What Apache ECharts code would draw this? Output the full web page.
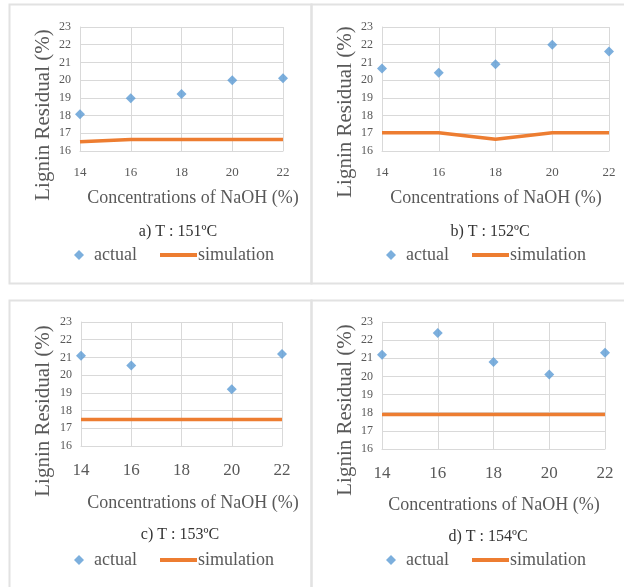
<!DOCTYPE html>
<html>
<head>
<meta charset="utf-8">
<script src="https://cdn.jsdelivr.net/npm/echarts@6/dist/echarts.min.js"></script>
<style>
  html, body { margin: 0; padding: 0; background: #fff; }
  #chart { width: 624px; height: 587px; }
</style>
</head>
<body>
<div id="chart"></div>
<script>
// NaOH concentrations (x)
const naoh = [14, 16, 18, 20, 22];
const naohC = [14, 16, 20, 22]; // panel c has no point at 18

// lignin residual (%)
const actualA = [18.07, 18.98, 19.22, 20.0, 20.1];
const simA = [16.52, 16.65, 16.65, 16.65, 16.65];
const actualB = [20.66, 20.42, 20.9, 22.0, 21.62];
const simB = [17.03, 17.03, 16.66, 17.03, 17.03];
const actualC = [21.1, 20.55, 19.2, 21.2];
const simC = [17.5, 17.5, 17.5, 17.5, 17.5];
const actualD = [21.2, 22.4, 20.8, 20.1, 21.3];
const simD = [17.9, 17.9, 17.9, 17.9, 17.9];

const panelTitles = ["a) T : 151ºC", "b) T : 152ºC", "c) T : 153ºC", "d) T : 154ºC"];
const xName = "Concentrations of NaOH (%)";
const yName = "Lignin Residual (%)";

const FONT = "Liberation Serif";
const GRAY = "#595959";
const GRID = "#d9d9d9";
const BLUE = "#5B9BD5";
const ORANGE = "#ED7D31";

// panel layout (plot boxes in px)
const grids = [
	{ left: 80, top: 27, width: 203, height: 124 },
	{ left: 382, top: 27, width: 227, height: 124 },
	{ left: 81, top: 322, width: 201, height: 124 },
	{ left: 382, top: 322, width: 223, height: 127 }
];
const xLabelSize = [13, 13, 17, 17];
const yNamePos = [[43, 115], [345, 112], [43, 411], [345, 410]];
const xNamePos = [[193, 198], [496, 198], [193, 503], [494, 505]];
const titlePos = [[178, 232], [490, 232], [180, 535], [488, 537]];
const legendTop = [241, 241, 546, 546];
const legendLeft = [[69, 155], [381, 467], [69, 155], [381, 467]];

const actuals = [actualA, actualB, actualC, actualD];
const sims = [simA, simB, simC, simD];

function pairs(xs, ys) {
	return xs.map((x, i) => [x, ys[i]]);
}

let xAxis = [], yAxis = [], series = [], legend = [], graphic = [];

grids.forEach((g, i) => {
	xAxis.push({
		gridIndex: i,
		type: "value",
		min: 14,
		max: 22,
		interval: 2,
		axisTick: { show: false },
		axisLine: { lineStyle: { color: GRID } },
		splitLine: { show: true, lineStyle: { color: GRID } },
		axisLabel: {
			color: GRAY,
			fontFamily: FONT,
			fontSize: xLabelSize[i],
			margin: i < 2 ? 15 : 16
		}
	});
	yAxis.push({
		gridIndex: i,
		type: "value",
		min: 16,
		max: 23,
		interval: 1,
		axisTick: { show: false },
		axisLine: { show: true, lineStyle: { color: GRID } },
		splitLine: { lineStyle: { color: GRID } },
		axisLabel: {
			color: GRAY,
			fontFamily: FONT,
			fontSize: 12,
			margin: 9
		}
	});
	let xs = i === 2 ? naohC : naoh;
	series.push({
		name: "actual",
		type: "scatter",
		xAxisIndex: i,
		yAxisIndex: i,
		symbol: "diamond",
		symbolSize: 10,
		itemStyle: { color: BLUE },
		data: pairs(xs, actuals[i]),
		z: 3
	});
	series.push({
		name: "simulation",
		type: "line",
		xAxisIndex: i,
		yAxisIndex: i,
		symbol: "none",
		lineStyle: { color: ORANGE, width: 3.5 },
		itemStyle: { color: ORANGE },
		data: pairs(naoh, sims[i]),
		z: 2
	});
	legend.push({
		data: [{ name: "actual", icon: "diamond" }],
		left: legendLeft[i][0],
		top: legendTop[i],
		itemWidth: 10,
		itemHeight: 10,
		selectedMode: false,
		textStyle: { color: GRAY, fontFamily: FONT, fontSize: 18, padding: [0, 0, 0, 5] }
	});
	legend.push({
		data: [{ name: "simulation", icon: "rect" }],
		left: legendLeft[i][1],
		top: legendTop[i],
		itemWidth: 37,
		itemHeight: 4,
		selectedMode: false,
		textStyle: { color: GRAY, fontFamily: FONT, fontSize: 18, padding: [0, 0, 0, -4] }
	});
	graphic.push({
		type: "text",
		x: yNamePos[i][0],
		y: yNamePos[i][1],
		rotation: Math.PI / 2,
		style: {
			text: yName,
			fill: GRAY,
			font: "21px " + FONT,
			textAlign: "center",
			textVerticalAlign: "middle"
		}
	});
	graphic.push({
		type: "text",
		x: xNamePos[i][0],
		y: xNamePos[i][1],
		style: {
			text: xName,
			fill: GRAY,
			font: "18px " + FONT,
			textAlign: "center",
			textVerticalAlign: "middle"
		}
	});
	graphic.push({
		type: "text",
		x: titlePos[i][0],
		y: titlePos[i][1],
		style: {
			text: panelTitles[i],
			fill: "#333",
			font: "16px " + FONT,
			textAlign: "center",
			textVerticalAlign: "middle"
		}
	});
});

// panel frames
[[9, 4, 302, 279], [311, 4, 320, 279], [9, 300, 302, 300], [311, 300, 320, 300]].forEach(r => {
	graphic.push({
		type: "rect",
		shape: { x: r[0] + 0.5, y: r[1] + 0.5, width: r[2], height: r[3] },
		style: { fill: "none", stroke: "#e2e2e2", lineWidth: 2 },
		z: -1
	});
});

let myChart = echarts.init(document.getElementById("chart"));
myChart.setOption({
	animation: false,
	grid: grids,
	xAxis: xAxis,
	yAxis: yAxis,
	legend: legend,
	graphic: graphic,
	series: series
});
</script>
</body>
</html>
